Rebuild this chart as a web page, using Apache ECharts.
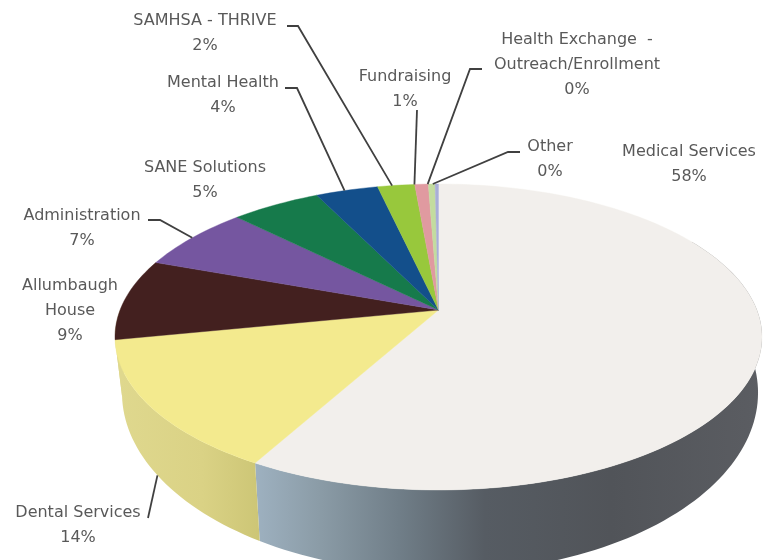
<!DOCTYPE html>
<html>
<head>
<meta charset="utf-8">
<script src="https://cdn.jsdelivr.net/npm/echarts@6/dist/echarts.min.js"></script>
<style>
  html, body { margin: 0; padding: 0; background: #fff; }
  #main { width: 775px; height: 560px; }
</style>
</head>
<body>
<div id="main"></div>
<script>
// slices, clockwise from 12 o'clock
const names = ['Medical Services', 'Dental Services', 'Allumbaugh House', 'Administration', 'SANE Solutions',
  'Mental Health', 'SAMHSA - THRIVE', 'Fundraising', 'Health Exchange - Outreach/Enrollment', 'Other']
const values = [58.1, 13.8, 8.6, 6.9, 5.3, 3.7, 2.2, 0.8, 0.4, 0.2]

const labelText = ['Medical Services', 'Dental Services', 'Allumbaugh\nHouse', 'Administration', 'SANE Solutions',
  'Mental Health', 'SAMHSA - THRIVE', 'Fundraising', 'Health Exchange  -\nOutreach/Enrollment', 'Other']

const topColors = ['#f2efec', '#f3ea8e', '#43201f', '#7556a0', '#167a4b', '#134f8b', '#98c83c', '#e09aa0', '#c3dc9f', '#a9aed8']

// label centre, leader elbow and leader end shift (deg), same order as names
const labelPos = [[689, 164], [78, 525], [70, 311], [82, 228], [205, 180], [223, 95], [205, 33], [405, 89], [577, 65], [550, 159]]
const leaderPts = [null, [[148, 518]], null, [[148, 220], [160, 220]], null, [[285, 88], [297, 88]], [[287, 26], [298, 26]],
  [[417, 110]], [[482, 69], [470, 69]], [[520, 152], [508, 152]]]
const leaderShift = [0, 0, 0, 0, 0, -0.5, -0.85, -1.5, -0.85, -0.85]

// perspective of the pie disc
const D = 5.667
const topRing = { cx: 438.5, ay: 310, f: 1804.6, g: 840 }
const baseRing = { cx: 440, ay: 361, f: 1774, g: 988 }

const project = (ring, deg) => {
  const a = deg * Math.PI / 180
  const X = Math.sin(a), Y = Math.cos(a)
  return [ring.cx + ring.f * X / (D + Y), ring.ay - ring.g * Y / (D + Y)]
}
const arc = (ring, from, to) => {
  const pts = []
  const n = Math.max(2, Math.ceil((to - from) / 1.5))
  for (let i = 0; i <= n; i++) pts.push(project(ring, from + (to - from) * i / n))
  return pts
}

let total = values.reduce((a, b) => a + b, 0)
let run = 0
const sliceData = values.map((v) => {
  const start = run / total * 360
  run += v
  return [start, run / total * 360, v]
})

const wallFill = {
  0: { type: 'linear', global: true, x: 258, y: 0, x2: 762, y2: 0, colorStops: [
    { offset: 0, color: '#9db0bf' }, { offset: 0.12, color: '#8b9ca7' }, { offset: 0.28, color: '#707e88' },
    { offset: 0.45, color: '#565c63' }, { offset: 0.7, color: '#515459' }, { offset: 1, color: '#5b5d62' }] },
  1: { type: 'linear', global: true, x: 118, y: 0, x2: 258, y2: 0, colorStops: [
    { offset: 0, color: '#dfd88e' }, { offset: 0.6, color: '#dad285' }, { offset: 1, color: '#cdc676' }] },
  2: '#dfd88e'
}

const myChart = echarts.init(document.getElementById('main'))
myChart.setOption({
  backgroundColor: '#fff',
  animation: false,
  series: [
    {
      // side wall, only the front part shows
      type: 'custom',
      coordinateSystem: 'none',
      silent: true,
      data: sliceData,
      renderItem: (params, api) => {
        const i = params.dataIndex
        const from = Math.max(api.value(0), 60), to = Math.min(api.value(1), 270)
        if (to <= from) return
        const points = arc(topRing, from, to).concat(arc(baseRing, from, to).reverse())
        return { type: 'polygon', shape: { points }, style: { fill: wallFill[i] || topColors[i] } }
      }
    },
    {
      type: 'custom',
      coordinateSystem: 'none',
      silent: true,
      data: sliceData,
      renderItem: (params, api) => {
        const i = params.dataIndex
        const points = [[topRing.cx, topRing.ay]].concat(arc(topRing, api.value(0), api.value(1)))
        return { type: 'polygon', shape: { points }, style: { fill: topColors[i], stroke: topColors[i], lineWidth: 0.4 } }
      }
    },
    {
      // leaders and labels
      type: 'custom',
      coordinateSystem: 'none',
      silent: true,
      data: sliceData,
      renderItem: (params, api) => {
        const i = params.dataIndex
        const children = [{
          type: 'text',
          style: {
            text: labelText[i] + '\n' + Math.round(api.value(2)) + '%',
            x: labelPos[i][0], y: labelPos[i][1],
            align: 'center', verticalAlign: 'middle',
            font: '16px "DejaVu Sans"', lineHeight: 25, fill: '#595959'
          }
        }]
        if (leaderPts[i]) {
          const mid = (api.value(0) + api.value(1)) / 2 + leaderShift[i]
          const end = project(i === 1 ? baseRing : topRing, mid)
          children.push({
            type: 'polyline',
            shape: { points: leaderPts[i].concat([end]) },
            style: { stroke: '#404040', lineWidth: 1.8, fill: null }
          })
        }
        return { type: 'group', children }
      }
    }
  ]
})
</script>
</body>
</html>
